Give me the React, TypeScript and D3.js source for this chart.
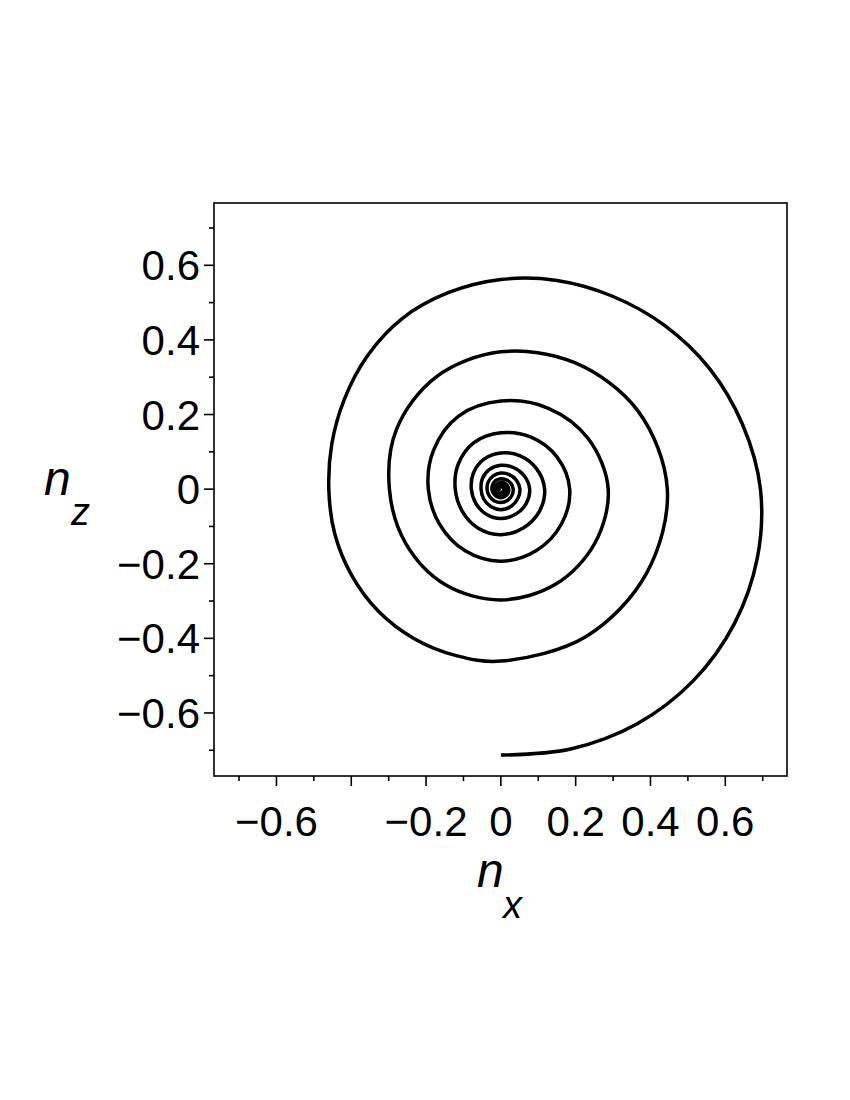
import React, { useEffect, useRef } from 'react';
import * as d3 from 'd3';

// Spiral: distance from the origin (in n units) at fixed
// directions, one row per turn, starting at the bottom and going anticlockwise.
const outerAngles = [
  -90, -75, -60, -45, -30, -15, 0, 15, 30, 45, 60, 75,
  90, 105, 120, 135, 150, 165, 180, 195, 210, 225, 240, 255,
];
const outerTurn = [
  0.713, 0.721, 0.727, 0.727, 0.721, 0.710, 0.694, 0.669, 0.645, 0.620, 0.597, 0.579,
  0.562, 0.545, 0.528, 0.505, 0.483, 0.468, 0.460, 0.460, 0.461, 0.463, 0.463, 0.462,
];
const innerAngles = [-90, -60, -30, 0, 30, 60, 90, 120, 150, 180, 210, 240];
const turn2 = [0.461, 0.456, 0.450, 0.445, 0.422, 0.392, 0.368, 0.347, 0.322, 0.298, 0.293, 0.296];
const turn3 = [0.297, 0.294, 0.290, 0.287, 0.270, 0.251, 0.236, 0.226, 0.208, 0.194, 0.189, 0.191];
const turn4 = [0.193, 0.190, 0.187, 0.184, 0.173, 0.161, 0.151, 0.144, 0.132, 0.122, 0.119, 0.121];
const turn5 = [0.122, 0.120, 0.119, 0.117, 0.110, 0.103, 0.097, 0.092, 0.085, 0.079, 0.077, 0.078];
const turn6 = [0.079, 0.078, 0.078, 0.077, 0.072, 0.067, 0.064, 0.061, 0.057, 0.053, 0.053, 0.054];
const turn7 = [0.055, 0.054, 0.052, 0.051, 0.048, 0.045, 0.043, 0.041, 0.039, 0.037, 0.036, 0.036];
const turn8 = [0.036, 0.035, 0.034, 0.033, 0.031, 0.029, 0.028, 0.027, 0.025, 0.024, 0.023, 0.023];
const turn9 = [0.023, 0.022, 0.022, 0.021, 0.020, 0.019, 0.018, 0.017, 0.016, 0.015, 0.015, 0.015];
const turn10 = [0.015, 0.014, 0.014, 0.013, 0.012, 0.012, 0.011, 0.011, 0.010, 0.010, 0.009, 0.009];
const turn11 = [0.009, 0.009, 0.008, 0.008, 0.007, 0.007, 0.007, 0.006, 0.006, 0.006, 0.005, 0.005];
const innerTurns = [turn2, turn3, turn4, turn5, turn6, turn7, turn8, turn9, turn10, turn11];

const majorTicks = [-0.6, -0.4, -0.2, 0, 0.2, 0.4, 0.6];
const minorTicks = [-0.7, -0.5, -0.3, -0.1, 0.1, 0.3, 0.5, 0.7];
const xLabelValues = [-0.6, -0.2, 0, 0.2, 0.4, 0.6];
const yLabelValues = [-0.6, -0.4, -0.2, 0, 0.2, 0.4, 0.6];

const W = 850;
const H = 1100;
const frame = { left: 214, right: 787, top: 203, bottom: 776 };
const font = "'Liberation Sans', Arial, sans-serif";

const fmt = (v: number) => (v < 0 ? '\u2212' + String(Math.abs(v)) : String(v));

export default function App() {
  const ref = useRef<SVGSVGElement>(null);

  useEffect(() => {
    const svg = d3.select(ref.current).html('');

    const x = d3.scaleLinear().domain([-0.767, 0.765]).range([frame.left, frame.right]);
    const y = d3.scaleLinear().domain([-0.769, 0.767]).range([frame.bottom, frame.top]);

    svg.append('rect').attr('width', W).attr('height', H).attr('fill', '#fff');

    // frame
    svg.append('rect')
      .attr('x', frame.left).attr('y', frame.top)
      .attr('width', frame.right - frame.left).attr('height', frame.bottom - frame.top)
      .attr('fill', 'none').attr('stroke', '#000').attr('stroke-width', 1.6);

    // x ticks (pointing out)
    const xt = svg.append('g').attr('stroke', '#000').attr('stroke-width', 1.6);
    majorTicks.forEach((v) => xt.append('line').attr('x1', x(v)).attr('x2', x(v))
      .attr('y1', frame.bottom).attr('y2', frame.bottom + 10));
    minorTicks.forEach((v) => xt.append('line').attr('x1', x(v)).attr('x2', x(v))
      .attr('y1', frame.bottom).attr('y2', frame.bottom + 5));

    // y ticks
    const yt = svg.append('g').attr('stroke', '#000').attr('stroke-width', 1.6);
    majorTicks.forEach((v) => yt.append('line').attr('y1', y(v)).attr('y2', y(v))
      .attr('x1', frame.left).attr('x2', frame.left - 10));
    minorTicks.forEach((v) => yt.append('line').attr('y1', y(v)).attr('y2', y(v))
      .attr('x1', frame.left).attr('x2', frame.left - 5));

    // tick labels
    svg.append('g').selectAll('text').data(xLabelValues).enter().append('text')
      .attr('x', (d) => x(d)).attr('y', 836)
      .attr('text-anchor', 'middle')
      .attr('font-family', font).attr('font-size', 42)
      .text((d) => fmt(d));

    svg.append('g').selectAll('text').data(yLabelValues).enter().append('text')
      .attr('x', 200).attr('y', (d) => y(d) + 15)
      .attr('text-anchor', 'end')
      .attr('font-family', font).attr('font-size', 42)
      .text((d) => fmt(d));

    // axis titles
    const title = (tx: number, ty: number, main: string, sub: string, sx: number, sy: number) => {
      svg.append('text').attr('x', tx).attr('y', ty)
        .attr('font-family', font).attr('font-style', 'italic').attr('font-size', 48).text(main);
      svg.append('text').attr('x', sx).attr('y', sy)
        .attr('font-family', font).attr('font-style', 'italic').attr('font-size', 38).text(sub);
    };
    title(44, 495, 'n', 'z', 71, 525);
    title(477, 887, 'n', 'x', 503, 918);

    // spiral: polar readings -> (nx, nz)
    const pts: [number, number][] = [];
    const addTurn = (angles: number[], radii: number[]) => {
      radii.forEach((r, i) => {
        const a = (angles[i] * Math.PI) / 180;
        pts.push([r * Math.cos(a), r * Math.sin(a)]);
      });
    };
    addTurn(outerAngles, outerTurn);
    innerTurns.forEach((radii) => addTurn(innerAngles, radii));

    const line = d3.line<[number, number]>()
      .x((d) => x(d[0]))
      .y((d) => y(d[1]))
      .curve(d3.curveCatmullRom.alpha(0.5));

    svg.append('path')
      .attr('d', line(pts))
      .attr('fill', 'none')
      .attr('stroke', '#000')
      .attr('stroke-width', 3.5)
      .attr('stroke-linejoin', 'round');
  }, []);

  return (
    <svg
      ref={ref}
      width={W}
      height={H}
      style={{ position: 'absolute', left: 0, top: 0 }}
    />
  );
}
